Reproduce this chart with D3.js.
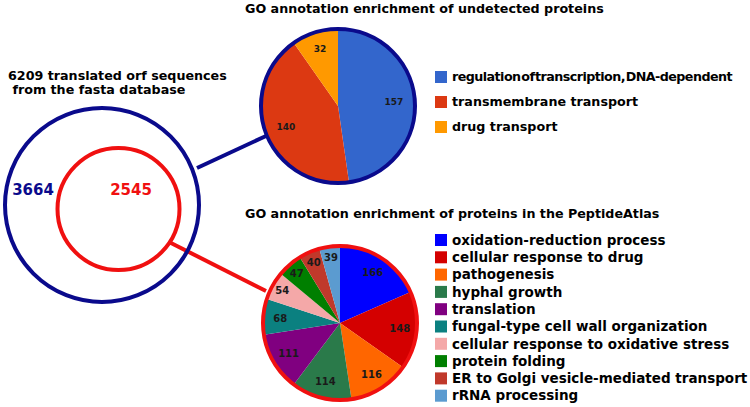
<!DOCTYPE html>
<html>
<head>
<meta charset="utf-8">
<script src="https://cdn.jsdelivr.net/npm/d3@7"></script>
<style>
  body { margin: 0; background: #fff; }
  svg text { font-family: "DejaVu Sans", sans-serif; font-weight: bold; }
</style>
</head>
<body>
<div id="chart"></div>
<script>
// venn part
var vennTitle = ["6209 translated orf sequences", " from the fasta database"];
var vennCounts = [3664, 2545];

// undetected proteins
var topTitle = "GO annotation enrichment of undetected proteins";
var topCats = ["regulation of transcription, DNA-dependent", "transmembrane transport", "drug transport"];
var topVals = [157, 140, 32];

// PeptideAtlas proteins
var botTitle = "GO annotation enrichment of proteins in the PeptideAtlas";
var botCats = ["oxidation-reduction process", "cellular response to drug", "pathogenesis",
  "hyphal growth", "translation", "fungal-type cell wall organization",
  "cellular response to oxidative stress", "protein folding",
  "ER to Golgi vesicle-mediated transport", "rRNA processing"];
var botVals = [166, 148, 116, 114, 111, 68, 54, 47, 40, 39];

var topColor = d3.scaleOrdinal().domain(topCats).range(["#3366cc", "#dc3912", "#ff9900"]);
var botColor = d3.scaleOrdinal().domain(botCats).range(["#0000ff", "#d40000", "#ff6600", "#2a7a4a",
  "#800080", "#0b8080", "#f4a8a8", "#007f00", "#c0392b", "#5b9bd0"]);

var svg = d3.select("#chart").append("svg")
  .attr("width", 750)
  .attr("height", 407);

var navy = "#0a0a8c";
var red = "#f01010";

// connector lines
svg.append("line")
  .attr("x1", 197).attr("y1", 168).attr("x2", 266).attr("y2", 136)
  .attr("stroke", navy).attr("stroke-width", 4);
svg.append("line")
  .attr("x1", 169).attr("y1", 242).attr("x2", 266).attr("y2", 291)
  .attr("stroke", red).attr("stroke-width", 4);

// venn circles
svg.append("circle")
  .attr("cx", 102).attr("cy", 205).attr("r", 97)
  .attr("fill", "none").attr("stroke", navy).attr("stroke-width", 4);
svg.append("circle")
  .attr("cx", 118.5).attr("cy", 209).attr("r", 61)
  .attr("fill", "none").attr("stroke", red).attr("stroke-width", 4);

svg.append("text")
  .attr("x", 8).attr("y", 80)
  .style("font-size", "12.7px")
  .selectAll("tspan")
  .data(vennTitle)
  .enter()
  .append("tspan")
  .attr("x", 8)
  .attr("dy", function(d, i) { return i ? 14 : 0; })
  .attr("xml:space", "preserve")
  .style("white-space", "pre")
  .text(function(d) { return d; });

svg.append("text")
  .attr("x", 33).attr("y", 195)
  .attr("text-anchor", "middle")
  .attr("fill", navy)
  .style("font-size", "15px")
  .text(vennCounts[0]);
svg.append("text")
  .attr("x", 131).attr("y", 195)
  .attr("text-anchor", "middle")
  .attr("fill", red)
  .style("font-size", "15px")
  .text(vennCounts[1]);

function drawPie(cx, cy, r, cats, vals, color, border, labelR, fontSize) {
  var g = svg.append("g").attr("transform", "translate(" + cx + "," + cy + ")");
  var pie = d3.pie().sort(null).value(function(d) { return d; });
  var arcs = pie(vals);
  var arc = d3.arc().innerRadius(0).outerRadius(r);
  g.selectAll("path")
    .data(arcs)
    .enter()
    .append("path")
    .attr("d", arc)
    .attr("fill", function(d, i) { return color(cats[i]); });
  g.append("circle")
    .attr("r", r)
    .attr("fill", "none")
    .attr("stroke", border)
    .attr("stroke-width", 4);
  g.selectAll("text.val")
    .data(arcs)
    .enter()
    .append("text")
    .attr("class", "val")
    .attr("text-anchor", "middle")
    .attr("dy", "0.35em")
    .attr("fill", "#1a1a1a")
    .style("font-size", fontSize + "px")
    .attr("transform", function(d) {
      var a = (d.startAngle + d.endAngle) / 2;
      var lr = labelR(d);
      return "translate(" + (Math.sin(a) * lr) + "," + (-Math.cos(a) * lr) + ")";
    })
    .text(function(d) { return d.value; });
}

function drawLegend(x, y0, step, size, fontSize, cats, color) {
  var items = svg.append("g").selectAll("g")
    .data(cats)
    .enter()
    .append("g")
    .attr("transform", function(d, i) { return "translate(" + x + "," + (y0 + i * step) + ")"; });
  items.append("rect")
    .attr("x", 0).attr("y", -size / 2)
    .attr("width", size).attr("height", size)
    .attr("fill", function(d) { return color(d); });
  return items.append("text")
    .attr("x", 17).attr("dy", "0.35em")
    .style("font-size", fontSize + "px")
    .text(function(d) { return d; });
}

// top pie
svg.append("text").attr("x", 245).attr("y", 13).style("font-size", "12.7px").text(topTitle);
drawPie(338, 106, 77, topCats, topVals, topColor, navy,
  function(d) { return d.value < 50 ? 60 : 56; }, 9);
var topText = drawLegend(435, 77, 25, 12, 12.7, topCats, topColor);
// first label is squeezed in the original: letters packed, spaces almost gone
topText.filter(function(d, i) { return i === 0; })
  .each(function(d) {
    var t = d3.select(this).style("word-spacing", "-3.2px");
    var w = this.getComputedTextLength();
    t.style("letter-spacing", ((280 - w) / d.length) + "px");
  });

// bottom pie
svg.append("text").attr("x", 245).attr("y", 218).style("font-size", "12.7px").text(botTitle);
drawPie(340, 323, 77, botCats, botVals, botColor, red,
  function(d) { return d.value < 60 ? 66 : 60; }, 10);
drawLegend(435, 240, 17.3, 12, 13.5, botCats, botColor);
</script>
</body>
</html>
